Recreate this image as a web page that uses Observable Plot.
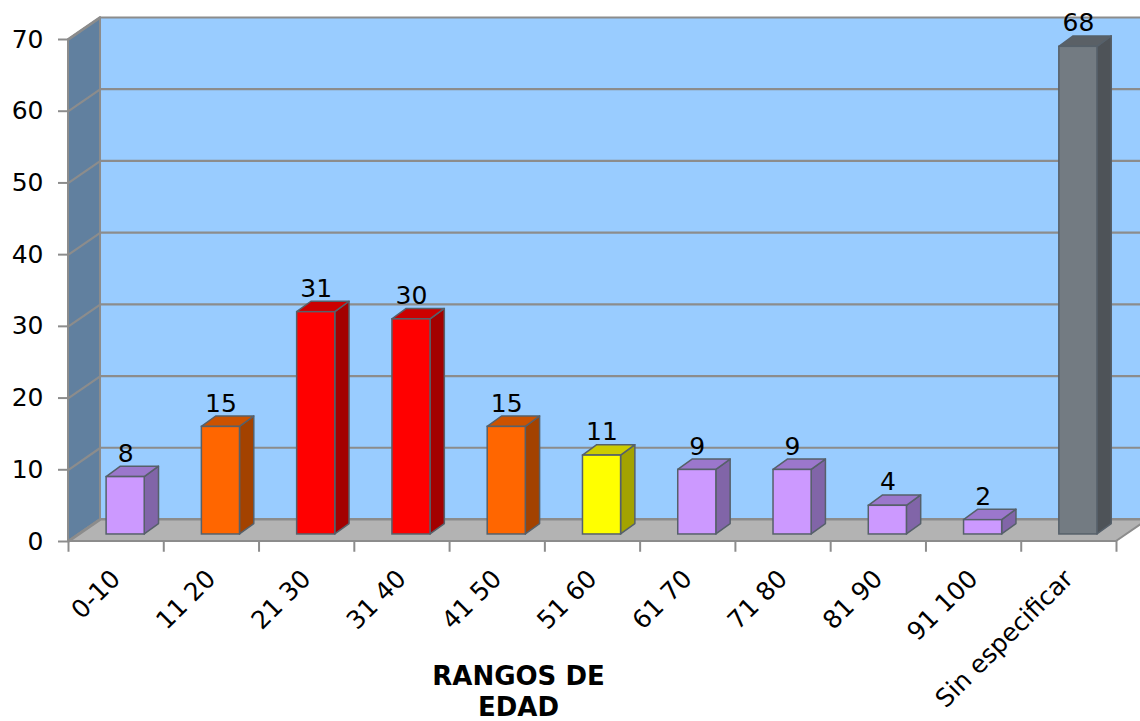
<!DOCTYPE html>
<html>
<head>
<meta charset="utf-8">
<script src="https://cdn.jsdelivr.net/npm/d3@7"></script>
<script src="https://cdn.jsdelivr.net/npm/@observablehq/plot@0.6"></script>
<style>
  html, body { margin: 0; padding: 0; background: #ffffff; overflow: hidden; }
  #chart svg { overflow: hidden; }
</style>
</head>
<body>
<div id="chart"></div>
<script>
// ---- data ----
const categories = ["0-10", "11 20", "21 30", "31 40", "41 50", "51 60", "61 70", "71 80", "81 90", "91 100", "Sin especificar"];
const values = [8, 15, 31, 30, 15, 11, 9, 9, 4, 2, 68];
const colorGroups = ["purple", "orange", "red", "red", "orange", "yellow", "purple", "purple", "purple", "purple", "gray"];
const yTicks = [0, 10, 20, 30, 40, 50, 60, 70];
const axisTitle = "RANGOS DE\nEDAD";

// ---- styles ----
const palette = {
  purple: {front: "#cc99ff", top: "#9b77cc", side: "#8165a8"},
  orange: {front: "#ff6600", top: "#cc5200", side: "#a34200"},
  red:    {front: "#ff0000", top: "#cc0000", side: "#a30000"},
  yellow: {front: "#ffff00", top: "#cccc00", side: "#a3a300"},
  gray:   {front: "#737b82", top: "#5a6066", side: "#4e5358"}
};
const n = categories.length;
const yMax = 70;
// pseudo-3D offsets expressed in data units
const wallDX = 0.336, wallDY = 3.07;   // depth of the floor/side wall
const baseDY = 0.98;                   // bars stand half-way into the floor
const barL = 0.40, barR = 0.80;        // front face within category band
const barDX = 0.150, barDY = 1.45;     // bar depth
const edge = "#56606a";
const grid = "#8c8c8c";

const bars = categories.map((c, i) => ({
  i, c, v: values[i], col: palette[colorGroups[i]],
  L: i + barL, R: i + barR, b: baseDY, t: values[i] + baseDY
}));

const topFaces = bars.flatMap(d => [
  {z: d.i, y: d.t, x1: d.L, x2: d.R, fill: d.col.top},
  {z: d.i, y: d.t + barDY, x1: d.L + barDX, x2: d.R + barDX, fill: d.col.top}
]);
const sideFaces = bars.flatMap(d => [
  {z: d.i, x: d.R, y1: d.b, y2: d.t, fill: d.col.side},
  {z: d.i, x: d.R + barDX, y1: d.b + barDY, y2: d.t + barDY, fill: d.col.side}
]);

const leftWall = [
  {x: 0, y1: 0, y2: yMax},
  {x: wallDX, y1: wallDY, y2: yMax + wallDY}
];
const floor = [
  {y: 0, x1: 0, x2: n},
  {y: wallDY, x1: wallDX, x2: n + wallDX}
];
const gridLines = yTicks.flatMap(v => [
  {z: v, x: 0, y: v},
  {z: v, x: wallDX, y: v + wallDY},
  {z: v, x: n + wallDX, y: v + wallDY}
]);
const boundaries = d3.range(n + 1);

const plot = Plot.plot({
  width: 1140,
  height: 721,
  marginLeft: 68,
  marginRight: 24,
  marginTop: 39,
  marginBottom: 180,
  style: {fontFamily: "'DejaVu Sans', Verdana, sans-serif", background: "#ffffff", color: "#000"},
  x: {domain: [0, n], axis: null},
  y: {domain: [0, yMax]},
  marks: [
    // back wall
    Plot.rect([{x1: wallDX, x2: n + wallDX, y1: wallDY, y2: yMax + wallDY}],
      {x1: "x1", x2: "x2", y1: "y1", y2: "y2", fill: "#99ccff"}),
    // left wall
    Plot.areaY(leftWall, {x: "x", y1: "y1", y2: "y2", fill: "#61809f", stroke: grid, strokeWidth: 2}),
    // floor
    Plot.areaX(floor, {y: "y", x1: "x1", x2: "x2", fill: "#b3b3b3", stroke: grid, strokeWidth: 2}),
    // gridlines
    Plot.line(gridLines, {x: "x", y: "y", z: "z", stroke: grid, strokeWidth: 2.2}),
    // y axis ticks
    Plot.ruleY(yTicks, {x1: -0.105, x2: 0, stroke: grid, strokeWidth: 2}),
    Plot.axisY({ticks: yTicks, tickSize: 0, tickPadding: 25, fontSize: 25, fill: "#000", stroke: null}),
    // x axis ticks
    Plot.ruleX(boundaries, {y1: 0, y2: -1.5, stroke: grid, strokeWidth: 2}),
    // bars: side faces
    Plot.areaY(sideFaces, {x: "x", y1: "y1", y2: "y2", z: "z", fill: "fill", stroke: edge, strokeWidth: 1.5}),
    // bars: top faces
    Plot.areaX(topFaces, {y: "y", x1: "x1", x2: "x2", z: "z", fill: "fill", stroke: edge, strokeWidth: 1.5}),
    // bars: front faces
    Plot.rect(bars, {x1: "L", x2: "R", y1: "b", y2: "t", fill: d => d.col.front, stroke: edge, strokeWidth: 1.5}),
    // value labels
    Plot.text(bars, {x: d => d.L + (barR - barL) / 2, y: d => d.t + barDY, text: d => String(d.v),
      lineAnchor: "bottom", dy: -5, fontSize: 25, fill: "#000"}),
    // category labels
    Plot.text(categories, {x: (d, i) => i + 0.5, y: 0, text: d => d, rotate: -45, textAnchor: "end",
      lineAnchor: "middle", dx: 0, dy: 33, fontSize: 25, fill: "#000"}),
    // axis title
    Plot.text([axisTitle], {frameAnchor: "bottom", text: d => d, dx: -74, dy: 121,
      lineAnchor: "top", lineHeight: 1.2, fontSize: 26, fontWeight: "bold", fill: "#000"})
  ]
});
document.getElementById("chart").append(plot);
</script>
</body>
</html>
